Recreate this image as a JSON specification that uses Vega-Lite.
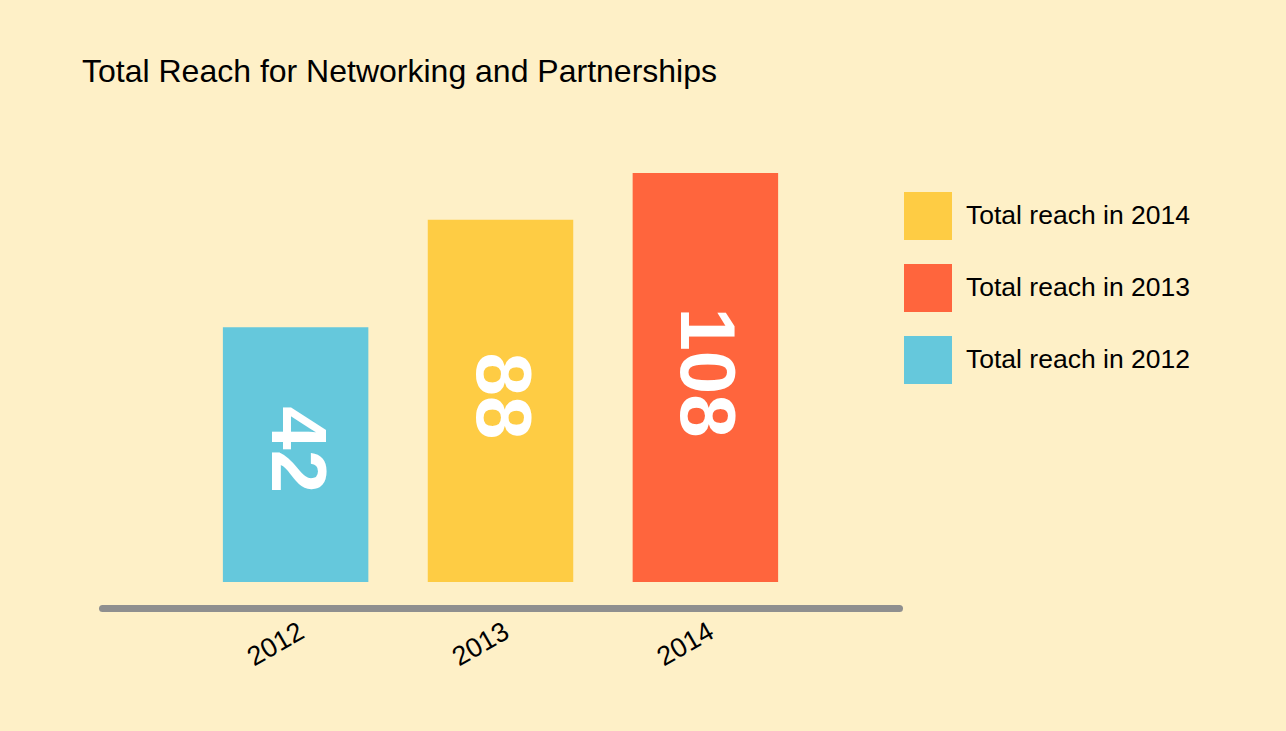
{
  "$schema": "https://vega.github.io/schema/vega-lite/v6.json",
  "width": 797,
  "height": 409,
  "autosize": {"type": "none"},
  "padding": {"left": 102, "top": 173, "right": 387, "bottom": 149},
  "background": "#FEF0C7",
  "title": {
    "text": "Total Reach for Networking and Partnerships",
    "anchor": "start",
    "frame": "group",
    "dx": -20,
    "offset": 84,
    "fontSize": 32,
    "fontWeight": "normal",
    "color": "#000000",
    "font": "Liberation Sans"
  },
  "data": {
    "values": [
      {"year": "2012", "value": 42, "series": "Total reach in 2012"},
      {"year": "2013", "value": 88, "series": "Total reach in 2014"},
      {"year": "2014", "value": 108, "series": "Total reach in 2013"}
    ]
  },
  "encoding": {
    "x": {
      "field": "year",
      "type": "nominal",
      "scale": {"paddingInner": 0.29, "paddingOuter": 0.59},
      "axis": {
        "title": null,
        "offset": 26,
        "domainColor": "#8F8F8F",
        "domainWidth": 7,
        "domainCap": "round",
        "ticks": false,
        "labelAngle": -30,
        "labelFontSize": 27,
        "labelColor": "#000000",
        "labelFont": "Liberation Sans",
        "labelPadding": 10,
        "labelDx": 3
      }
    }
  },
  "layer": [
    {
      "mark": {"type": "bar"},
      "encoding": {
        "y": {
          "field": "value",
          "type": "quantitative",
          "scale": {"domain": [-67, 108], "nice": false, "zero": false},
          "axis": null
        },
        "y2": {"datum": -67},
        "color": {
          "field": "series",
          "type": "nominal",
          "scale": {
            "domain": ["Total reach in 2014", "Total reach in 2013", "Total reach in 2012"],
            "range": ["#FECC44", "#FF653D", "#65C8DC"]
          },
          "legend": {
            "title": null,
            "orient": "none",
            "legendX": 802,
            "legendY": 19,
            "padding": 0,
            "symbolType": "square",
            "symbolSize": 2304,
            "symbolStrokeWidth": 0,
            "symbolOpacity": 1,
            "labelFontSize": 26.5,
            "labelFont": "Liberation Sans",
            "labelColor": "#000000",
            "labelOffset": 14,
            "rowPadding": 24,
            "labelLimit": 400
          }
        }
      }
    },
    {
      "transform": [{"calculate": "(datum.value - 67) / 2", "as": "mid"}],
      "mark": {
        "type": "text",
        "angle": 90,
        "align": "center",
        "baseline": "middle",
        "dx": -5,
        "dy": 1,
        "fontSize": 78,
        "fontWeight": "bold",
        "font": "Liberation Sans",
        "color": "#FFFFFF"
      },
      "encoding": {
        "y": {"field": "mid", "type": "quantitative"},
        "text": {"field": "value", "type": "quantitative"}
      }
    }
  ],
  "config": {
    "view": {"stroke": null},
    "font": "Liberation Sans"
  }
}
